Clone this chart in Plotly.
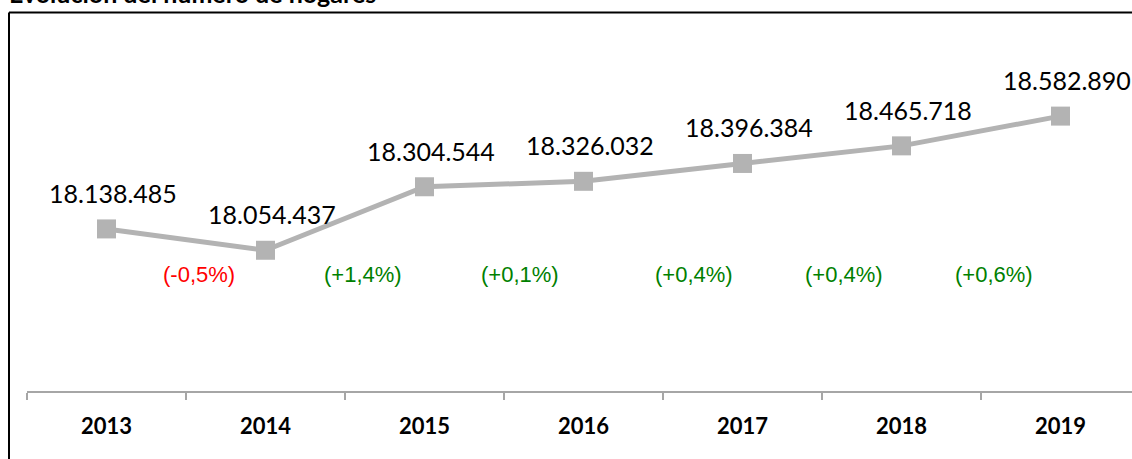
import plotly.graph_objects as go

years = ["2013", "2014", "2015", "2016", "2017", "2018", "2019"]
hogares = [18138485, 18054437, 18304544, 18326032, 18396384, 18465718, 18582890]
variacion = ["(-0,5%)", "(+1,4%)", "(+0,1%)", "(+0,4%)", "(+0,4%)", "(+0,6%)"]
title_text = "Evolución del número de hogares"

W, H = 1132, 459
ML, MR, MT, MB = 27, 0, 61.4, 68
pw = W - ML - MR
ph = H - MT - MB

def px_x(p):
    return (p - ML) / pw

def px_y(p):
    return (H - MB - p) / ph

def fmt(v):
    return f"{v:,}".replace(",", ".")

fig = go.Figure()
fig.add_trace(go.Scatter(
    x=years, y=hogares, mode="lines+markers",
    line=dict(color="#b3b3b3", width=5),
    marker=dict(symbol="square", size=19, color="#b3b3b3"),
    hoverinfo="skip", showlegend=False,
))

annotations = []
for i, v in enumerate(hogares):
    annotations.append(dict(
        x=i, y=v, xref="x", yref="y", text=fmt(v), showarrow=False,
        xshift=6, yshift=36, font=dict(family="Lato", size=25, color="#000000"),
    ))

pct_x = [0.579, 1.613, 2.601, 3.695, 4.638, 5.582]
for xp, t in zip(pct_x, variacion):
    col = "#ff0000" if t.startswith("(-") else "#008000"
    annotations.append(dict(
        x=xp, y=px_y(275), xref="x", yref="paper", text=t, showarrow=False,
        xanchor="center", yanchor="middle",
        font=dict(family="Liberation Sans", size=22, color=col),
    ))

annotations.append(dict(
    x=px_x(7), y=px_y(10), xref="paper", yref="paper", text="<b>" + title_text + "</b>",
    showarrow=False, xanchor="left", yanchor="bottom",
    font=dict(family="Lato", size=25, color="#000000"),
))

shapes = [
    dict(type="line", xref="paper", yref="paper", x0=px_x(9), x1=px_x(1200), y0=px_y(13), y1=px_y(13),
         line=dict(color="#000000", width=2)),
    dict(type="line", xref="paper", yref="paper", x0=px_x(9), x1=px_x(9), y0=px_y(13), y1=px_y(520),
         line=dict(color="#000000", width=2)),
]

fig.update_layout(
    width=W, height=H,
    margin=dict(l=ML, r=MR, t=MT, b=MB),
    paper_bgcolor="white", plot_bgcolor="white",
    annotations=annotations, shapes=shapes,
    xaxis=dict(
        type="category", range=[-0.5, -0.5 + pw / 159.0],
        showgrid=False, zeroline=False,
        showline=True, linecolor="#a6a6a6", linewidth=2,
        ticks="outside", tickson="boundaries", ticklen=7, tickcolor="#a6a6a6", tickwidth=2,
        tickfont=dict(family="Lato", size=22, color="#000000", weight="bold"),
        ticklabelstandoff=15,
    ),
    yaxis=dict(range=[17500000, 18800000], visible=False, showgrid=False, zeroline=False),
)

fig.write_html(
    "out.html",
    config={"displayModeBar": False},
    post_script="document.body.style.margin='0px';document.body.style.overflow='hidden';",
)
